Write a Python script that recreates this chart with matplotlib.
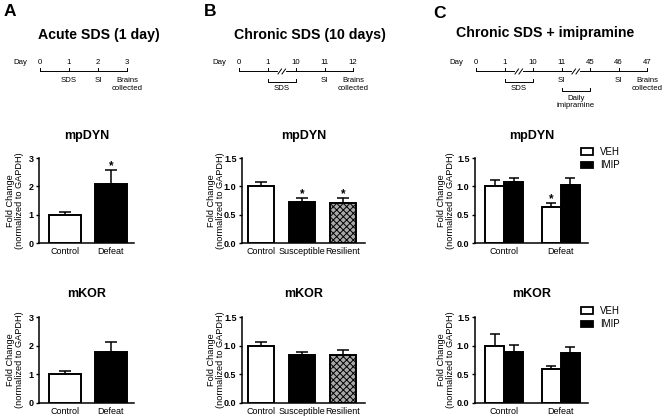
import matplotlib
matplotlib.use('Agg')
import matplotlib.pyplot as plt
from matplotlib.patches import Rectangle

plt.rcParams['font.family'] = ['Liberation Sans', 'DejaVu Sans']
plt.rcParams['hatch.linewidth'] = 0.7

W, H, DPI = 665, 419, 100

# ---------------- data ----------------
a_groups = ['Control', 'Defeat']
a_dyn_mean = [1.0, 2.08]
a_dyn_err = [0.1, 0.5]
a_dyn_sig = [False, True]
a_kor_mean = [1.0, 1.76]
a_kor_err = [0.12, 0.36]
a_kor_sig = [False, False]

b_groups = ['Control', 'Susceptible', 'Resilient']
b_dyn_mean = [1.01, 0.73, 0.71]
b_dyn_err = [0.07, 0.07, 0.08]
b_dyn_sig = [False, True, True]
b_kor_mean = [1.0, 0.83, 0.84]
b_kor_err = [0.07, 0.05, 0.08]
b_kor_sig = [False, False, False]

c_groups = ['Control', 'Defeat']
c_treat = ['VEH', 'IMIP']
c_dyn_veh = [1.0, 0.64]
c_dyn_veh_err = [0.12, 0.07]
c_dyn_veh_sig = [False, True]
c_dyn_imip = [1.08, 1.02]
c_dyn_imip_err = [0.06, 0.12]
c_kor_veh = [1.0, 0.59]
c_kor_veh_err = [0.21, 0.05]
c_kor_imip = [0.89, 0.87]
c_kor_imip_err = [0.12, 0.11]

a_days = ['0', '1', '2', '3']
a_events = [(1, 'SDS'), (2, 'SI'), (3, 'Brains\ncollected')]
b_days = ['0', '1', '10', '11', '12']
b_breaks = [1]
b_brackets = [(1, 2, 'SDS')]
b_events = [(3, 'SI'), (4, 'Brains\ncollected')]
c_days = ['0', '1', '10', '11', '45', '46', '47']
c_breaks = [1, 3]
c_brackets = [(1, 2, 'SDS'), (3, 4, 'Daily\nimipramine')]
c_events = [(3, 'SI'), (5, 'SI'), (6, 'Brains\ncollected')]

# ---------------- figure ----------------
fig = plt.figure(figsize=(W / DPI, H / DPI), dpi=DPI)
ov = fig.add_axes([0, 0, 1, 1], zorder=-1)
ov.set_xlim(0, W)
ov.set_ylim(H, 0)
ov.axis('off')

TOP = (158, 243)
BOT = (317, 402.5)


def px_axes(x0, x1, y0, y1):
    ax = fig.add_axes([x0 / W, 1 - y1 / H, (x1 - x0) / W, (y1 - y0) / H])
    ax._px_h = y1 - y0
    return ax


def style(ax, ylim, ticks, fmt, cats, xlim):
    ax.set_ylim(*ylim)
    ax.set_xlim(*xlim)
    ax.set_yticks(ticks)
    ax.set_yticklabels([fmt.format(t) for t in ticks], fontsize=6.5, fontweight='bold')
    ax.set_xticks(range(len(cats)))
    ax.set_xticklabels(cats, fontsize=6.5)
    ax.tick_params(axis='x', length=0, pad=3)
    ax.tick_params(axis='y', length=2.5, width=1, pad=1.5)
    for s in ['top', 'right']:
        ax.spines[s].set_visible(False)
    for s in ['left', 'bottom']:
        ax.spines[s].set_linewidth(1.1)
    ax.set_facecolor('none')


def bars(ax, xs, means, errs, width, face, hatch=None, sigs=None, capsize=3.5):
    for x, m, e, f, h in zip(xs, means, errs, face, hatch or [None] * len(xs)):
        ax.bar(x, m, width, color=f, edgecolor='k', linewidth=1.4, hatch=h, zorder=3)
        ax.errorbar(x, m, yerr=[[0], [e]], fmt='none', ecolor='k', elinewidth=1.1,
                    capsize=capsize, capthick=1.1, zorder=2)
    if sigs:
        y0, y1 = ax.get_ylim()
        per_px = (y1 - y0) / ax._px_h
        for x, m, e, s in zip(xs, means, errs, sigs):
            if s:
                ax.text(x, m + e + 1.0 * per_px, '*', ha='center', va='baseline',
                        fontsize=8.5, fontweight='bold')


def title_over(ax_x0, ax_x1, y, text):
    ov.text((ax_x0 + ax_x1) / 2, y, text, ha='center', va='center',
            fontsize=9, fontweight='bold')


def ylab(x, y0, y1):
    ov.text(x, (y0 + y1) / 2, 'Fold Change\n(normalized to GAPDH)', rotation=90,
            ha='center', va='center', fontsize=6.6, multialignment='center',
            linespacing=1.05)


# ---- Panel A ----
AX0, AX1 = 39, 134
ax = px_axes(AX0, AX1, *TOP)
style(ax, (0, 3), [0, 1, 2, 3], '{:g}', a_groups, (-0.565, 1.5))
bars(ax, range(2), a_dyn_mean, a_dyn_err, 0.7, ['white', 'black'], sigs=a_dyn_sig, capsize=4.5)
title_over(AX0, AX1, 136, 'mpDYN')
ylab(15, *TOP)

ax = px_axes(AX0, AX1, *BOT)
style(ax, (0, 3), [0, 1, 2, 3], '{:g}', a_groups, (-0.565, 1.5))
bars(ax, range(2), a_kor_mean, a_kor_err, 0.7, ['white', 'black'], sigs=a_kor_sig, capsize=4.5)
title_over(AX0, AX1, 294, 'mKOR')
ylab(15, *BOT)

# ---- Panel B ----
BX0, BX1 = 242, 365
bxl = (-0.463, 2.537)
bw = 0.63
hatch_face = ['white', 'black', '#a8a8a8']
hatches = [None, None, 'xxxxx']
ax = px_axes(BX0, BX1, *TOP)
style(ax, (0, 1.5), [0, 0.5, 1.0, 1.5], '{:.1f}', b_groups, bxl)
bars(ax, range(3), b_dyn_mean, b_dyn_err, bw, hatch_face, hatch=hatches, sigs=b_dyn_sig, capsize=4)
title_over(BX0, BX1, 136, 'mpDYN')
ylab(216, *TOP)

ax = px_axes(BX0, BX1, *BOT)
style(ax, (0, 1.5), [0, 0.5, 1.0, 1.5], '{:.1f}', b_groups, bxl)
bars(ax, range(3), b_kor_mean, b_kor_err, bw, hatch_face, hatch=hatches, sigs=b_kor_sig, capsize=4)
title_over(BX0, BX1, 294, 'mKOR')
ylab(216, *BOT)

# ---- Panel C ----
CX0, CX1 = 475, 588
cxl = (-0.52, 1.48)
cw = 0.337


def c_panel(y0, y1, veh, veh_e, imip, imip_e, sig, title, ty):
    ax = px_axes(CX0, CX1, y0, y1)
    style(ax, (0, 1.5), [0, 0.5, 1.0, 1.5], '{:.1f}', c_groups, cxl)
    xs = list(range(2))
    bars(ax, [x - cw / 2 for x in xs], veh, veh_e, cw, ['white'] * 2, sigs=sig, capsize=3.5)
    bars(ax, [x + cw / 2 for x in xs], imip, imip_e, cw, ['black'] * 2, capsize=3.5)
    handles = [Rectangle((0, 0), 1, 1, facecolor='white', edgecolor='k', linewidth=1.3),
               Rectangle((0, 0), 1, 1, facecolor='black', edgecolor='k', linewidth=1.3)]
    leg = ov.legend(handles, c_treat, loc='upper left',
                    bbox_to_anchor=(581 / W, 1 - (y0 - 11) / H),
                    bbox_transform=fig.transFigure, frameon=False, fontsize=7,
                    handlelength=1.25, handleheight=0.7, handletextpad=0.7,
                    labelspacing=0.35, borderpad=0, borderaxespad=0)
    title_over(CX0, CX1, ty, title)
    ylab(446, y0, y1)
    return leg


leg1 = c_panel(*TOP, c_dyn_veh, c_dyn_veh_err, c_dyn_imip, c_dyn_imip_err, c_dyn_veh_sig, 'mpDYN', 136)
ov.add_artist(leg1)
c_panel(*BOT, c_kor_veh, c_kor_veh_err, c_kor_imip, c_kor_imip_err, None, 'mKOR', 294)

# ---------------- headers ----------------
for x, y, t in [(10, 12, 'A'), (210, 12, 'B'), (440, 14, 'C')]:
    ov.text(x, y, t, ha='center', va='center', fontsize=12.5, fontweight='bold')
for x, y, t in [(99, 35, 'Acute SDS (1 day)'), (310, 35, 'Chronic SDS (10 days)'),
                (545, 33, 'Chronic SDS + imipramine')]:
    ov.text(x, y, t, ha='center', va='center', fontsize=10.2, fontweight='bold')


def timeline(x0, dx, days, breaks, brackets, events):
    y_line, y_num = 71.5, 62
    fs = 5.6
    lw = 0.7
    ov.text(x0 - 20, y_num, 'Day', ha='center', va='center', fontsize=fs)
    xs = [x0 + i * dx for i in range(len(days))]
    ov.plot([xs[0], xs[-1]], [y_line] * 2, color='k', lw=lw)
    for x, d in zip(xs, days):
        ov.plot([x, x], [y_line - 3.5, y_line], color='k', lw=lw)
        ov.text(x, y_num, d, ha='center', va='center', fontsize=fs)
    for b in breaks:
        xm = (xs[b] + xs[b + 1]) / 2
        ov.plot([xm - 3, xm + 3], [y_line] * 2, color='white', lw=1.5)
        for off in (-2, 2):
            ov.plot([xm + off - 1.8, xm + off + 1.8], [y_line + 2.5, y_line - 2.5], color='k', lw=lw)
    for k, (i, j, lab) in enumerate(brackets):
        yb = 82 + 9 * k
        ov.plot([xs[i], xs[i], xs[j], xs[j]], [yb - 3, yb, yb, yb - 3], color='k', lw=lw)
        ov.text((xs[i] + xs[j]) / 2, yb + 3.5, lab, ha='center', va='top', fontsize=fs,
                linespacing=1.1)
    for i, lab in events:
        ov.text(xs[i], 77.5, lab, ha='center', va='top', fontsize=fs, linespacing=1.1)


timeline(40, 29, a_days, [], [], a_events)
timeline(239, 28.5, b_days, b_breaks, b_brackets, b_events)
timeline(476, 28.5, c_days, c_breaks, c_brackets, c_events)

fig.savefig('out.png', dpi=DPI)
